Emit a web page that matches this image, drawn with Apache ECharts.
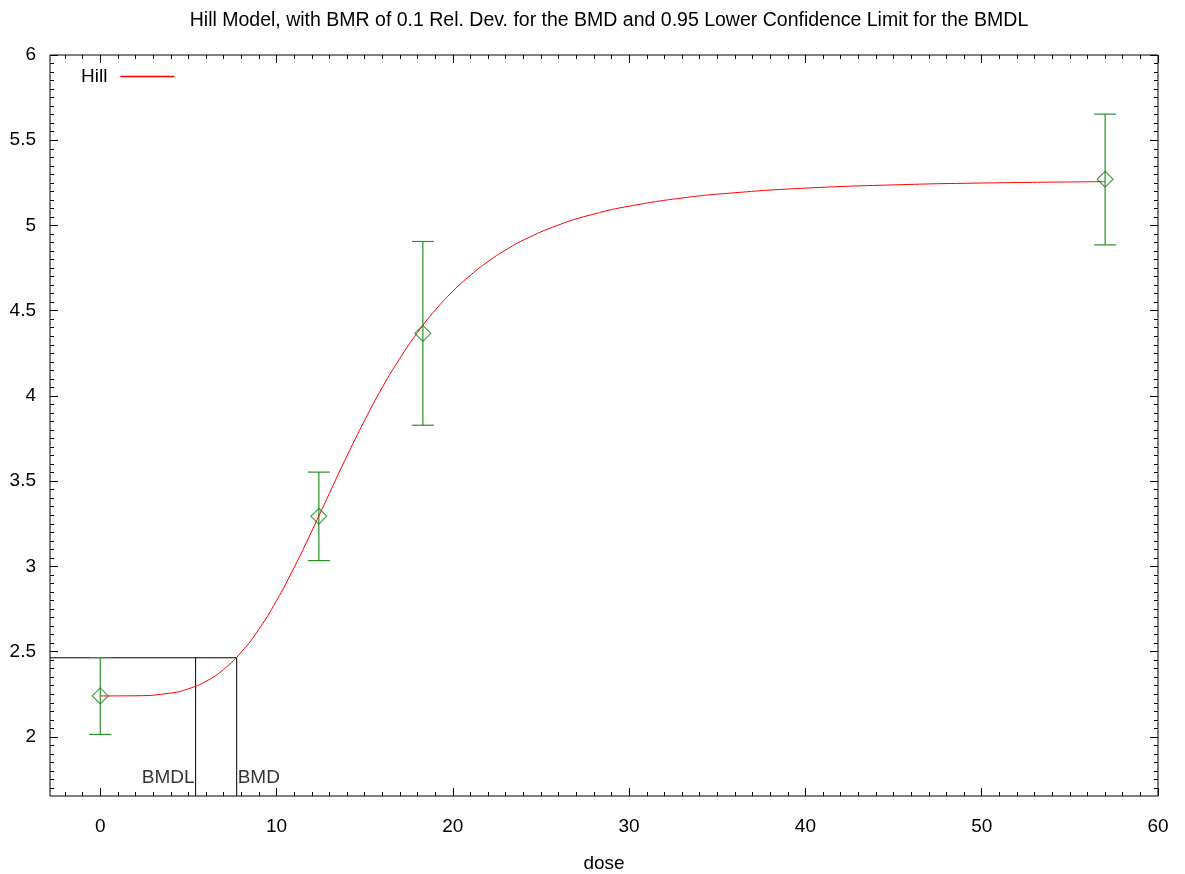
<!DOCTYPE html>
<html><head><meta charset="utf-8">
<script src="https://cdn.jsdelivr.net/npm/echarts@6/dist/echarts.min.js"></script>
<style>html,body{margin:0;padding:0;background:#fff}#c{width:1185px;height:874px}</style>
</head><body><div id="c"></div>
<script>
const titleText = 'Hill Model, with BMR of 0.1 Rel. Dev. for the BMD and 0.95 Lower Confidence Limit for the BMDL';
const seriesName = 'Hill';
const xAxisName = 'dose';
// observed data
const doses = [0, 12.4, 18.3, 57];
const means = [2.24, 3.294, 4.367, 5.271];
const lowerCI = [2.014, 3.034, 3.828, 4.886];
const upperCI = [2.465, 3.553, 4.906, 5.653];
// fitted curve
const curveDose = [0, 2, 4, 5, 6, 7, 8, 9, 10, 11, 12, 13, 14, 15, 16, 17, 18, 19, 20, 21, 22, 23, 24, 26, 28, 30, 33, 36, 40, 45, 50, 57];
const curveValue = [2.240, 2.241, 2.257, 2.282, 2.326, 2.396, 2.497, 2.631, 2.799, 2.994, 3.207, 3.429, 3.649, 3.857, 4.050, 4.221, 4.372, 4.503, 4.614, 4.708, 4.789, 4.856, 4.914, 5.003, 5.067, 5.113, 5.161, 5.192, 5.219, 5.238, 5.249, 5.257];
// benchmark dose lines
const bmd = 7.74;
const bmdl = 5.41;
const bmrResponse = 2.464;
const bmdLabels = ['BMDL', 'BMD'];
// axes
const xTicks = [0, 10, 20, 30, 40, 50, 60];
const yTicks = [2, 2.5, 3, 3.5, 4, 4.5, 5, 5.5, 6];
const xMin = -2.85, xMax = 60, yMin = 1.653, yMax = 6;
const labelLevel = 1.762;

const xMinor = [];
for (let v = Math.ceil(xMin); v <= xMax; v += 1) xMinor.push(v);
const yMinor = [];
for (let i = Math.ceil(yMin * 20); i <= yMax * 20; i++) yMinor.push(i / 20);

const FONT = '"Liberation Sans", Arial, sans-serif';
const FS = 19;
const black = '#000';
const gridLeft = 50, gridRight = 27;

function xAx(pos, values, len, labels) {
  return {
    type: 'value', position: pos, min: xMin, max: xMax,
    axisLine: { show: false, onZero: false },
    splitLine: { show: false },
    axisTick: { show: true, inside: true, length: len, customValues: values, lineStyle: { color: black, width: 1 } },
    axisLabel: labels ? { show: true, customValues: xTicks, margin: 21, fontFamily: FONT, fontSize: FS, color: black } : { show: false },
    name: labels ? xAxisName : '',
    nameLocation: 'middle', nameGap: 58,
    nameTextStyle: { fontFamily: FONT, fontSize: FS, color: black }
  };
}
function yAx(pos, values, len, labels) {
  return {
    type: 'value', position: pos, min: yMin, max: yMax,
    axisLine: { show: false, onZero: false },
    splitLine: { show: false },
    axisTick: { show: true, inside: true, length: len, customValues: values, lineStyle: { color: black, width: 1 } },
    axisLabel: labels ? { show: true, customValues: yTicks, margin: 14, padding: [3, 0, 0, 0], fontFamily: FONT, fontSize: FS, color: black } : { show: false }
  };
}

const green = '#2a922a';
const option = {
  backgroundColor: '#fff',
  animation: false,
  title: {
    text: titleText, left: gridLeft + (1185 - gridLeft - gridRight) / 2, textAlign: 'center', top: 6,
    textStyle: { fontFamily: FONT, fontSize: 19.5, fontWeight: 'normal', color: black }
  },
  legend: {
    data: [{ name: seriesName, icon: 'rect' }],
    left: 76, top: 62, align: 'right',
    itemWidth: 54, itemHeight: 1.5,
    textStyle: { fontFamily: FONT, fontSize: FS, color: black, padding: [0, 8, 0, 0] }
  },
  grid: { left: gridLeft, right: gridRight, top: 55, bottom: 78, show: true, borderColor: black, borderWidth: 1, backgroundColor: 'transparent', outerBoundsMode: 'none', containLabel: false },
  xAxis: [
    xAx('bottom', xTicks, 8, true),
    xAx('bottom', xMinor, 4, false),
    xAx('top', xTicks, 8, false),
    xAx('top', xMinor, 4, false)
  ],
  yAxis: [
    yAx('left', yTicks, 8, true),
    yAx('left', yMinor, 4, false),
    yAx('right', yTicks, 8, false),
    yAx('right', yMinor, 4, false)
  ],
  series: [
    {
      name: seriesName, type: 'line', smooth: true, symbol: 'none',
      data: curveDose.map((d, i) => [d, curveValue[i]]),
      lineStyle: { color: '#ff0000', width: 1 }, itemStyle: { color: '#ff0000' }, z: 3
    },
    {
      name: 'errors', type: 'custom',
      data: doses.map((d, i) => [d, lowerCI[i], upperCI[i]]),
      renderItem: function (params, api) {
        const lo = api.coord([api.value(0), api.value(1)]);
        const hi = api.coord([api.value(0), api.value(2)]);
        const w = 11;
        const st = { stroke: green, lineWidth: 1.2 };
        return {
          type: 'group', children: [
            { type: 'line', shape: { x1: lo[0], y1: lo[1], x2: hi[0], y2: hi[1] }, style: st },
            { type: 'line', shape: { x1: lo[0] - w, y1: lo[1], x2: lo[0] + w, y2: lo[1] }, style: st },
            { type: 'line', shape: { x1: hi[0] - w, y1: hi[1], x2: hi[0] + w, y2: hi[1] }, style: st }
          ]
        };
      },
      z: 2
    },
    {
      name: 'means', type: 'scatter', symbol: 'diamond', symbolSize: 16,
      data: doses.map((d, i) => [d, means[i]]),
      itemStyle: { color: 'rgba(0,0,0,0)', borderColor: '#1f8a1f', borderWidth: 1.2 }, z: 4
    },
    {
      name: 'bmdLine', type: 'line', symbol: 'none',
      data: [[xMin, bmrResponse], [bmd, bmrResponse], [bmd, yMin]],
      lineStyle: { color: black, width: 1 }, z: 1
    },
    {
      name: 'bmdlLine', type: 'line', symbol: 'none',
      data: [[bmdl, bmrResponse], [bmdl, yMin]],
      lineStyle: { color: black, width: 1 }, z: 1
    },
    {
      name: 'bmdLabels', type: 'scatter', symbolSize: 0,
      data: [
        { value: [bmdl, labelLevel], label: { show: true, position: 'left', distance: 1, formatter: bmdLabels[0] } },
        { value: [bmd, labelLevel], label: { show: true, position: 'right', distance: 1, formatter: bmdLabels[1] } }
      ],
      label: { fontFamily: FONT, fontSize: FS, color: black }
    }
  ]
};
const chart = echarts.init(document.getElementById('c'));
chart.setOption(option);
</script>
</body></html>
